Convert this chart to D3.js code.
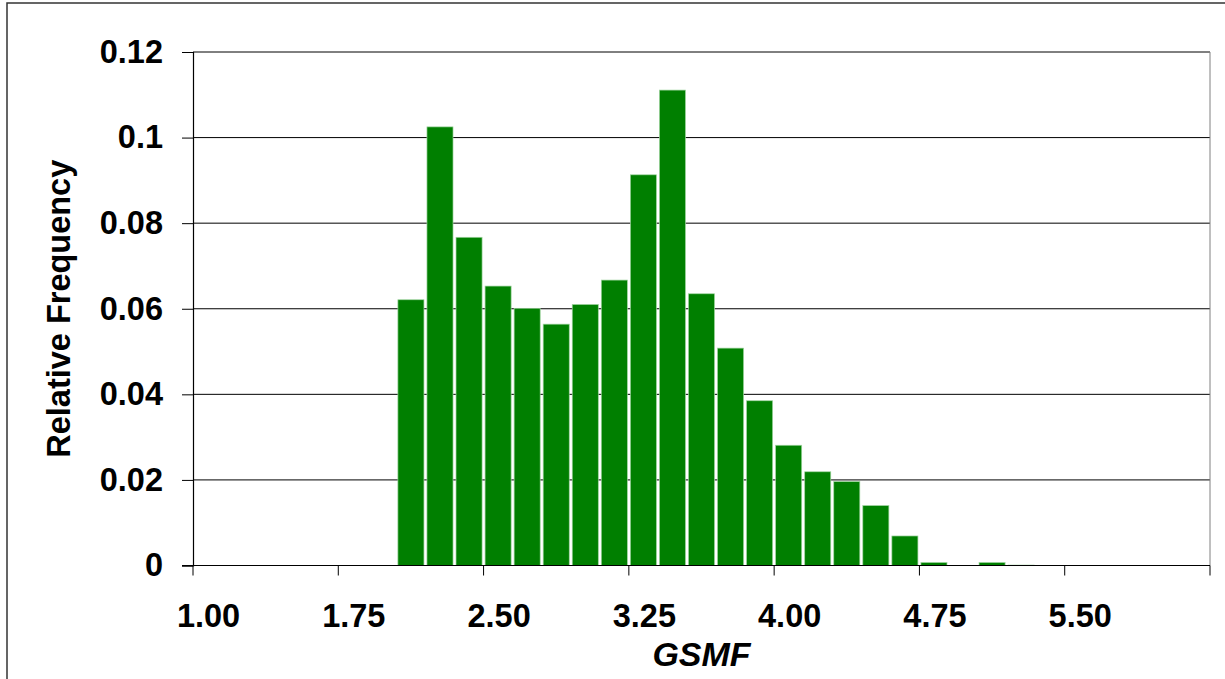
<!DOCTYPE html>
<html>
<head>
<meta charset="utf-8">
<script src="https://cdn.jsdelivr.net/npm/d3@7"></script>
<style>
  html, body { margin: 0; padding: 0; background: #fff; }
  svg { display: block; }
  text { font-family: "Liberation Sans", Arial, sans-serif; font-weight: bold; }
</style>
</head>
<body>
<svg id="chart" width="1225" height="679"></svg>
<script>
// ---- Data ----
const categories = ["1.00","1.15","1.30","1.45","1.60","1.75","1.90","2.05","2.20","2.35",
                    "2.50","2.65","2.80","2.95","3.10","3.25","3.40","3.55","3.70","3.85",
                    "4.00","4.15","4.30","4.45","4.60","4.75","4.90","5.05","5.20","5.35",
                    "5.50","5.65","5.80","5.95","6.10"];
const frequencies = [0, 0, 0, 0, 0, 0, 0, 0.0621, 0.1025, 0.0767,
                     0.0653, 0.0601, 0.0564, 0.0610, 0.0667, 0.0913, 0.1111, 0.0635, 0.0508, 0.0385,
                     0.0281, 0.0219, 0.0196, 0.0140, 0.0069, 0.0007, 0, 0.0007, 0.0001, 0,
                     0, 0, 0, 0, 0];
const xTickLabels = ["1.00","1.75","2.50","3.25","4.00","4.75","5.50"];
const yTickValues = [0, 0.02, 0.04, 0.06, 0.08, 0.1, 0.12];
const yTickLabels = ["0", "0.02", "0.04", "0.06", "0.08", "0.1", "0.12"];
const xTitle = "GSMF";
const yTitle = "Relative Frequency";

// ---- Layout ----
const mLeft = 193, mRight = 1210, mTop = 52, mBottom = 565.5;
const svg = d3.select("#chart");

// outer frame
svg.append("rect").attr("x", 7).attr("y", 3).attr("width", 1240).attr("height", 700)
  .attr("fill", "none").attr("stroke", "#333").attr("stroke-width", 1.5);

const x = d3.scaleBand().domain(categories).range([mLeft, mRight]).padding(0);
const y = d3.scaleLinear().domain([0, 0.12]).range([mBottom, mTop]);
const bw = x.bandwidth();

// gridlines
svg.append("g").selectAll("line").data(yTickValues.filter(v => v > 0)).join("line")
  .attr("x1", mLeft).attr("x2", mRight)
  .attr("y1", d => y(d)).attr("y2", d => y(d))
  .attr("stroke", "#000").attr("stroke-width", 1);

// right border of plot area
svg.append("line").attr("x1", mRight).attr("x2", mRight).attr("y1", mTop).attr("y2", mBottom)
  .attr("stroke", "#808080").attr("stroke-width", 1);

// bars
svg.append("g").selectAll("rect").data(categories.map((c, i) => ({c, v: frequencies[i]})).filter(d => d.v > 0))
  .join("rect")
  .attr("x", d => x(d.c) + 1.5)
  .attr("width", bw - 3)
  .attr("y", d => y(d.v))
  .attr("height", d => Math.max(0.6, mBottom - y(d.v)))
  .attr("fill", "#007f00")
  .attr("stroke", "#9fd49f").attr("stroke-width", 0.7);

// y axis
const yAxis = d3.axisLeft(y).tickValues(yTickValues)
  .tickFormat((d, i) => yTickLabels[i]).tickSize(11).tickPadding(19);
const gy = svg.append("g").attr("transform", `translate(${mLeft},0)`).call(yAxis);
gy.select(".domain").attr("stroke", "#000").attr("stroke-width", 1.2);
gy.selectAll(".tick line").attr("stroke", "#000");
gy.selectAll(".tick text").attr("font-size", 32.5).attr("fill", "#000")
  .style("font-family", "'Liberation Sans', Arial, sans-serif").style("font-weight", "bold");

// x axis: ticks at category boundaries every 5, labels at category centers
const tickIdx = d3.range(0, categories.length + 1, 5);
const gx = svg.append("g");
gx.append("line").attr("x1", mLeft - 11).attr("x2", mRight).attr("y1", mBottom).attr("y2", mBottom)
  .attr("stroke", "#000").attr("stroke-width", 1.2);
gx.selectAll("line.tk").data(tickIdx).join("line").attr("class", "tk")
  .attr("x1", i => i < categories.length ? x(categories[i]) : mRight)
  .attr("x2", i => i < categories.length ? x(categories[i]) : mRight)
  .attr("y1", mBottom).attr("y2", mBottom + 10)
  .attr("stroke", "#000").attr("stroke-width", 1);
gx.selectAll("text").data(xTickLabels).join("text")
  .attr("x", d => x(d) + bw / 2 + 1)
  .attr("y", 627)
  .attr("text-anchor", "middle")
  .attr("font-size", 32.5).attr("fill", "#000")
  .text(d => d);

// titles
svg.append("text").attr("x", (mLeft + mRight) / 2).attr("y", 666)
  .attr("text-anchor", "middle").attr("font-size", 34).attr("font-style", "italic")
  .text(xTitle);
svg.append("text").attr("transform", `translate(70,${(mTop + mBottom) / 2}) rotate(-90)`)
  .attr("text-anchor", "middle").attr("font-size", 32.5)
  .text(yTitle);
</script>
</body>
</html>
